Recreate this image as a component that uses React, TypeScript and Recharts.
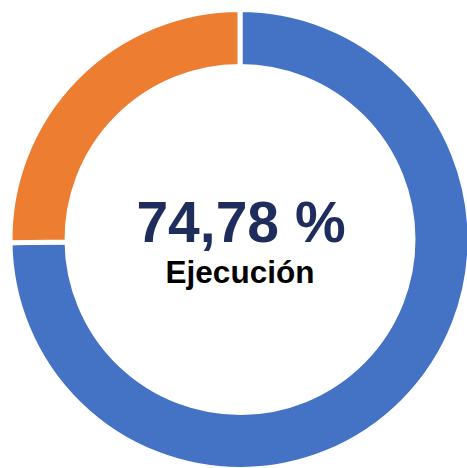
import React from "react";
import { PieChart, Pie, Cell, Label } from "recharts";

const categories = ["Ejecutado", "Pendiente"];
const values = [74.78, 25.22];
const centerValue = "74,78 %";
const centerLabel = "Ejecución";
const colors = ["#4472C4", "#ED7D31"];

const data = categories.map((name, i) => ({ name, value: values[i] }));

const CX = 240;
const CY = 239.5;

const CenterContent = () => (
  <g>
    <text
      x={CX + 1}
      y={CY + 2}
      textAnchor="middle"
      fontFamily="'Liberation Sans', Arial, sans-serif"
      fontWeight="bold"
      fontSize={57}
      fill="#1F2D5C"
    >
      {centerValue}
    </text>
    <text
      x={CX}
      y={CY + 43}
      textAnchor="middle"
      fontFamily="'Liberation Sans', Arial, sans-serif"
      fontWeight="bold"
      fontSize={31.5}
      fill="#000000"
    >
      {centerLabel}
    </text>
  </g>
);

export default function App() {
  return (
    <div style={{ position: "absolute", left: 0, top: 0, width: 467, height: 468, background: "#fff" }}>
      <PieChart width={467} height={468} margin={{ top: 0, right: 0, bottom: 0, left: 0 }}>
        <Pie
          data={data}
          dataKey="value"
          nameKey="name"
          cx={CX}
          cy={CY}
          startAngle={90}
          endAngle={-270}
          innerRadius={173}
          outerRadius={230}
          stroke="#ffffff"
          strokeWidth={5}
          isAnimationActive={false}
        >
          {data.map((d, i) => (
            <Cell key={d.name} fill={colors[i]} />
          ))}
          <Label content={<CenterContent />} position="center" />
        </Pie>
      </PieChart>
    </div>
  );
}
